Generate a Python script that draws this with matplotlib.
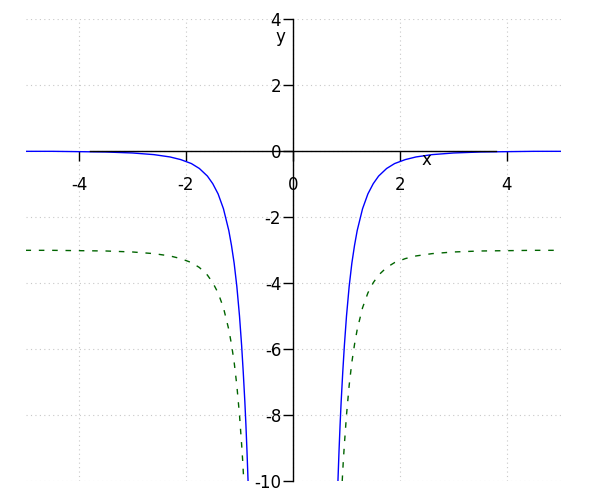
import matplotlib
matplotlib.use("Agg")
import matplotlib.pyplot as plt

# Blue solid curve, left and right branches
blue_x_left = [-5.0, -4.5, -4.0, -3.5, -3.0, -2.6, -2.3, -2.1, -1.9, -1.75, -1.6, -1.5,
               -1.4, -1.3, -1.2, -1.15, -1.1, -1.05, -1.0, -0.96, -0.93, -0.9, -0.88, -0.86, -0.84]
blue_y_left = [-0.01, -0.01, -0.02, -0.03, -0.06, -0.11, -0.18, -0.26, -0.38, -0.53, -0.76, -0.99,
               -1.30, -1.75, -2.41, -2.86, -3.4, -4.1, -5.0, -5.9, -6.7, -7.6, -8.3, -9.1, -10.0]
blue_x_right = [0.84, 0.86, 0.88, 0.9, 0.93, 0.96, 1.0, 1.05, 1.1, 1.15, 1.2, 1.3, 1.4,
                1.5, 1.6, 1.75, 1.9, 2.1, 2.3, 2.6, 3.0, 3.5, 4.0, 4.5, 5.0]
blue_y_right = [-10.0, -9.1, -8.3, -7.6, -6.7, -5.9, -5.0, -4.1, -3.4, -2.86, -2.41, -1.75, -1.30,
                -0.99, -0.76, -0.53, -0.38, -0.26, -0.18, -0.11, -0.06, -0.03, -0.02, -0.01, -0.01]

# Green dashed curve, left and right branches
green_x_left = [-5.0, -4.5, -4.0, -3.5, -3.0, -2.6, -2.3, -2.1, -1.9, -1.75, -1.6, -1.5,
                -1.4, -1.3, -1.2, -1.15, -1.1, -1.05, -1.0, -0.96, -0.94, -0.92]
green_y_left = [-3.01, -3.01, -3.02, -3.03, -3.06, -3.11, -3.18, -3.26, -3.38, -3.53, -3.76, -3.99,
                -4.30, -4.75, -5.41, -5.86, -6.4, -7.1, -8.0, -8.9, -9.4, -10.0]
green_x_right = [0.92, 0.94, 0.96, 1.0, 1.05, 1.1, 1.15, 1.2, 1.3, 1.4, 1.5, 1.6, 1.75,
                 1.9, 2.1, 2.3, 2.6, 3.0, 3.5, 4.0, 4.5, 5.0]
green_y_right = [-10.0, -9.4, -8.9, -8.0, -7.1, -6.4, -5.86, -5.41, -4.75, -4.30, -3.99, -3.76, -3.53,
                 -3.38, -3.26, -3.18, -3.11, -3.06, -3.03, -3.02, -3.01, -3.01]

x_ticks = [-4, -2, 0, 2, 4]
x_tick_labels = ["-4", "-2", "0", "2", "4"]
y_ticks = [4, 2, 0, -2, -4, -6, -8, -10]
y_tick_labels = ["4", "2", "0", "-2", "-4", "-6", "-8", "-10"]

fig = plt.figure(figsize=(6, 5), dpi=100)
ax = fig.add_axes([25.5 / 600, 19 / 500, 535 / 600, 462 / 500])

dash = (0, (4.0, 5.6))
ax.plot(blue_x_left, blue_y_left, color="blue", lw=1.0, zorder=2)
ax.plot(blue_x_right, blue_y_right, color="blue", lw=1.0, zorder=2)
ax.plot(green_x_left, green_y_left, color="#006400", lw=1.0, ls=dash, zorder=2)
ax.plot(green_x_right, green_y_right, color="#006400", lw=1.0, ls=dash, zorder=2)

ax.set_xlim(-5, 5)
ax.set_ylim(-10, 4)

for s in ["top", "right"]:
    ax.spines[s].set_visible(False)
ax.spines["bottom"].set_position(("data", 0))
ax.spines["left"].set_position(("data", 0))
ax.spines["bottom"].set_bounds(-3.8, 3.8)
ax.spines["bottom"].set_zorder(3)
ax.spines["left"].set_zorder(3)
ax.spines["bottom"].set_linewidth(1.0)
ax.spines["left"].set_linewidth(1.0)

ax.set_xticks(x_ticks)
ax.set_xticklabels(x_tick_labels)
ax.set_yticks(y_ticks)
ax.set_yticklabels(y_tick_labels)
ax.tick_params(axis="x", direction="out", length=7, width=1, labelsize=12, pad=11)
ax.tick_params(axis="y", direction="out", length=7, width=1, labelsize=12, pad=1.5)

ax.grid(True, color="#c8c8c8", ls=(0, (1, 3)), lw=0.8, zorder=0)

ax.text(0.750, 0.695, "x", transform=ax.transAxes, fontsize=12, ha="center", va="center")
ax.text(0.476, 0.961, "y", transform=ax.transAxes, fontsize=12, ha="center", va="center")

fig.savefig("out.png", dpi=100)
